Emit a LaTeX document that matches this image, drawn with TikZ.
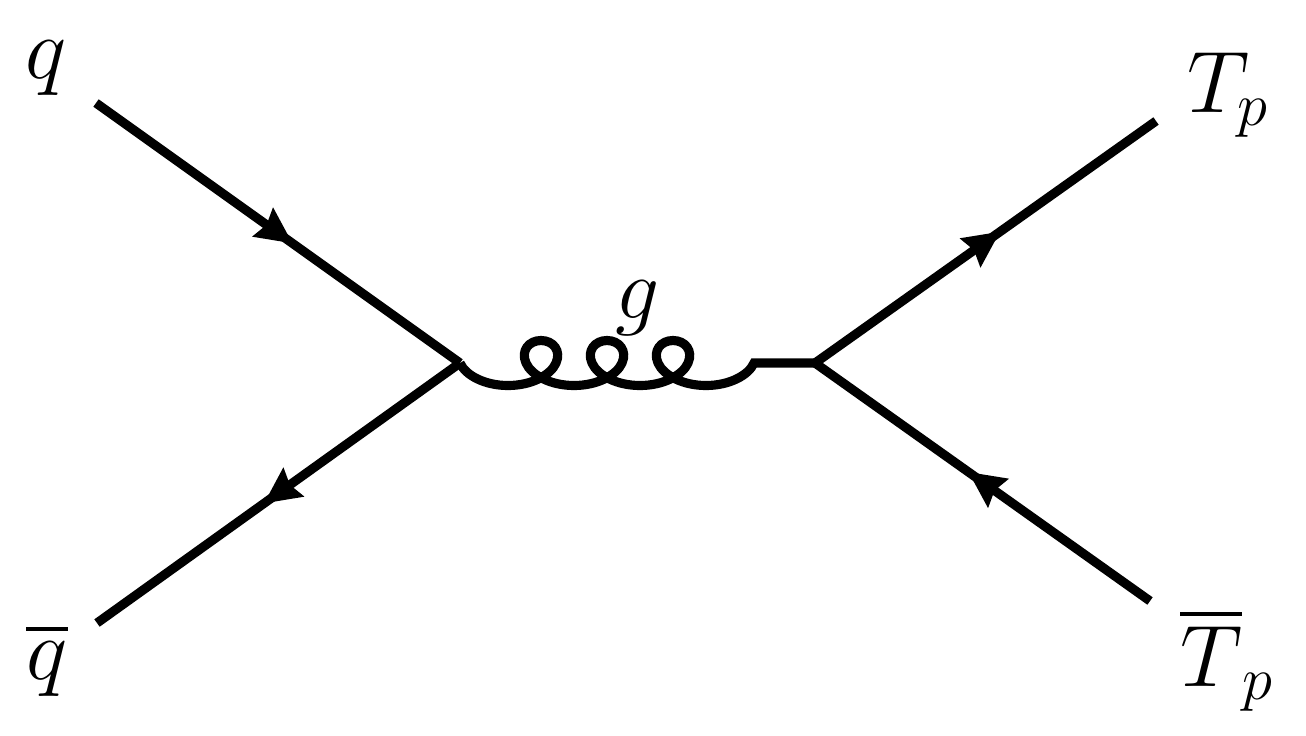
\documentclass[tikz,border=0pt]{standalone}
\usepackage{amsmath}
\usepackage{tikz}
\usetikzlibrary{
    arrows.meta,
    positioning,
    decorations.markings,
    decorations.pathmorphing
}
\tikzstyle{fermion} = [
    line width=2.6pt,
    postaction={decorate},
    decoration={markings,
        mark=at position 0.5 with {\arrow[xshift=0.18cm]{Stealth[length=0.36cm,width=0.34cm,inset=0.04cm]}}}
]
\tikzstyle{gluon} = [
    line width=2.6pt,
    decorate,
    decoration={coil, mirror, amplitude=0.225cm, segment length=0.66cm, aspect=1.4}
]

\begin{document}
\begin{tikzpicture}[
    font=\fontsize{23}{28}\selectfont,
    label/.style={inner sep=0pt}
]
\useasboundingbox (0,0) rectangle (13.06,7.35);

% Vertizes und äußere Enden
\coordinate (v1) at (4.60,3.72);
\coordinate (v2) at (8.15,3.72);
\coordinate (q) at (0.96,6.32);
\coordinate (qbar) at (0.97,1.12);
\coordinate (t) at (11.56,6.14);
\coordinate (tbar) at (11.50,1.34);

% Linien
\draw[fermion] (q) -- (v1);
\draw[fermion] (v1) -- (qbar);
\draw[fermion] (v2) -- (t);
\draw[fermion] (tbar) -- (v2);
\draw[gluon] (v1) -- (v2);

% Beschriftungen
\node[label] (qlabel) at (0.46,6.67) {$q$};
\node[label] (qbarlabel) at (0.47,0.75) {$\overline{q}$};
\node[label] (tlabel) at (12.28,6.40) {$T_p$};
\node[label] (tbarlabel) at (12.27,0.75) {$\overline{T}_p$};
\node[label] (glabel) at (6.38,4.27) {$g$};

\end{tikzpicture}
\end{document}
